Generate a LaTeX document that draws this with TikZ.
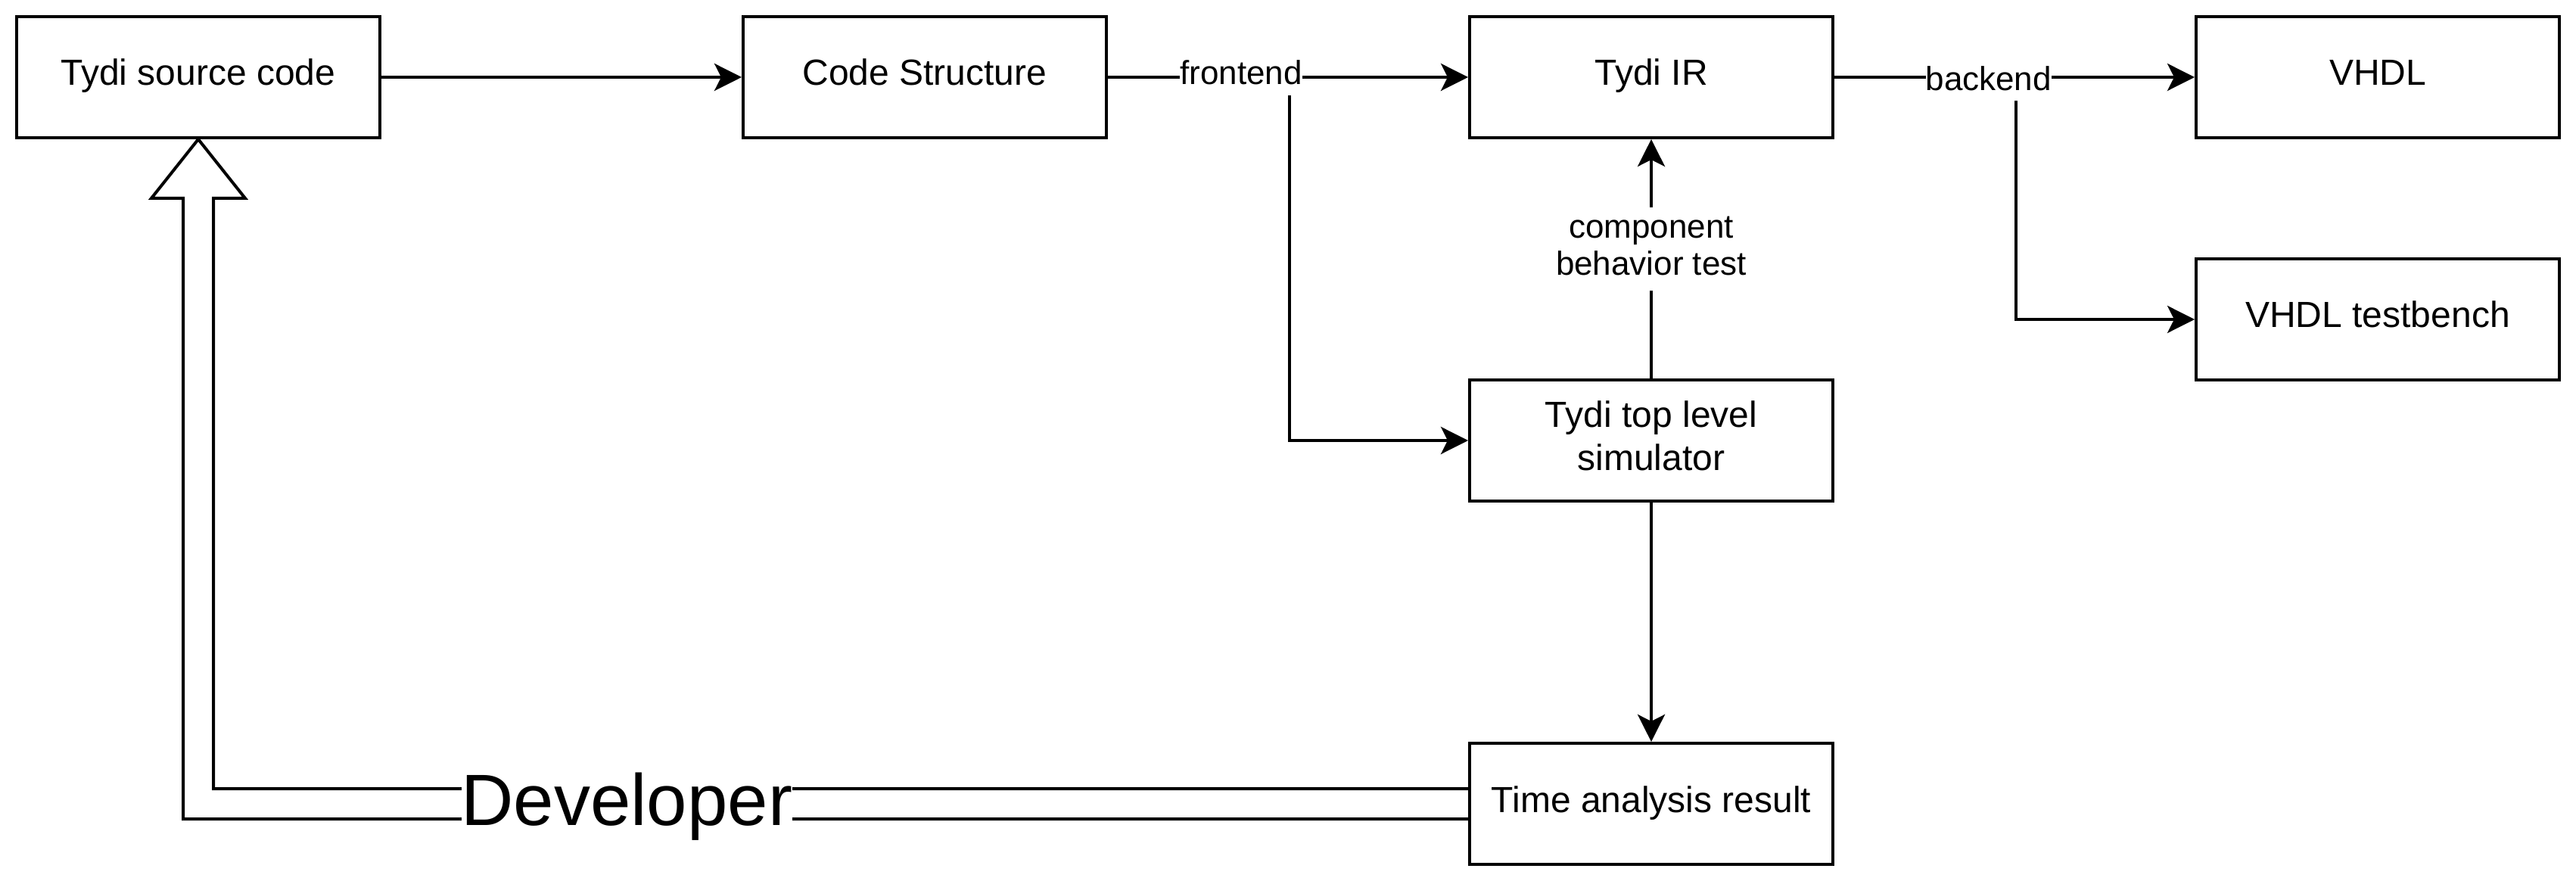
\documentclass[tikz,border=0pt]{standalone}
\usepackage{fontspec}
\setmainfont{Liberation Sans}
\usetikzlibrary{arrows.meta}
\begin{document}
\begin{tikzpicture}[x=1pt,y=-1pt,line width=1pt,
  box/.style={draw=black, line width=1pt, fill=white, minimum width=120pt, minimum height=40pt,
    inner sep=0pt, align=center, font=\fontsize{12pt}{14.4pt}\selectfont},
  oneline/.style={text height=8.75pt, text depth=3.25pt},
  arr/.style={draw=black, line width=1pt, -{Stealth[length=9pt,width=9pt,inset=2.25pt]}},
  elab/.style={fill=white, inner xsep=0pt, inner ysep=0.5pt, text height=8pt, text depth=3pt,
    font=\fontsize{11pt}{13.2pt}\selectfont},
  clab/.style={fill=white, inner xsep=0pt, inner ysep=2.2pt, align=center,
    font=\fontsize{11pt}{12.2pt}\selectfont},
  flex/.style={draw=black, line width=1pt, line join=miter},
  devlab/.style={fill=white, inner sep=0pt, text height=17.5pt, text depth=3.5pt,
    font=\fontsize{24pt}{28.8pt}\selectfont}
]
\fill[white] (-0.5,-0.5) rectangle (850.5,290.5);
\useasboundingbox (-0.5,-0.5) rectangle (850.5,290.5);

% boxes
\node[box,oneline] (src)  at (65,25)  {Tydi source code};
\node[box,oneline] (code) at (305,25) {Code Structure};
\node[box,oneline] (ir)   at (545,25) {Tydi IR};
\node[box,oneline] (vhdl) at (785,25) {VHDL};
\node[box,oneline] (tb)   at (785,105) {VHDL testbench};
\node[box] (sim)  at (545,145) {\rule{0pt}{8.75pt}Tydi top level\\simulator\rule[-3.25pt]{0pt}{3.25pt}};
\node[box,oneline] (time) at (545,265) {Time analysis result};

% branches (drawn first, labels cover them)
\draw[arr] (code.east) -- ++(60,0) |- (sim.west);
\draw[arr] (ir.east) -- ++(60,0) |- (tb.west);

% main edges
\draw[arr] (src.east) -- (code.west);
\draw[arr] (code.east) -- node[elab, pos=0.37] {frontend} (ir.west);
\draw[arr] (ir.east) -- node[elab, pos=0.428, yshift=-1.8pt] {backend} (vhdl.west);
\draw[arr] (sim.north) -- node[clab, pos=0.541] {\rule{0pt}{8pt}component\\behavior test\rule[-3pt]{0pt}{3pt}} (ir.south);
\draw[arr] (sim.south) -- (time.north);

% developer feedback (flex arrow)
\draw[flex] ([yshift=5pt]time.west) -- (70,260) -- (70,65) -- (80.5,65) -- (src.south)
  -- (49.5,65) -- (60,65) -- (60,270) -- ([yshift=-5pt]time.west);
\node[devlab] (dev) at (206.6,265) {Developer};
\end{tikzpicture}
\end{document}
